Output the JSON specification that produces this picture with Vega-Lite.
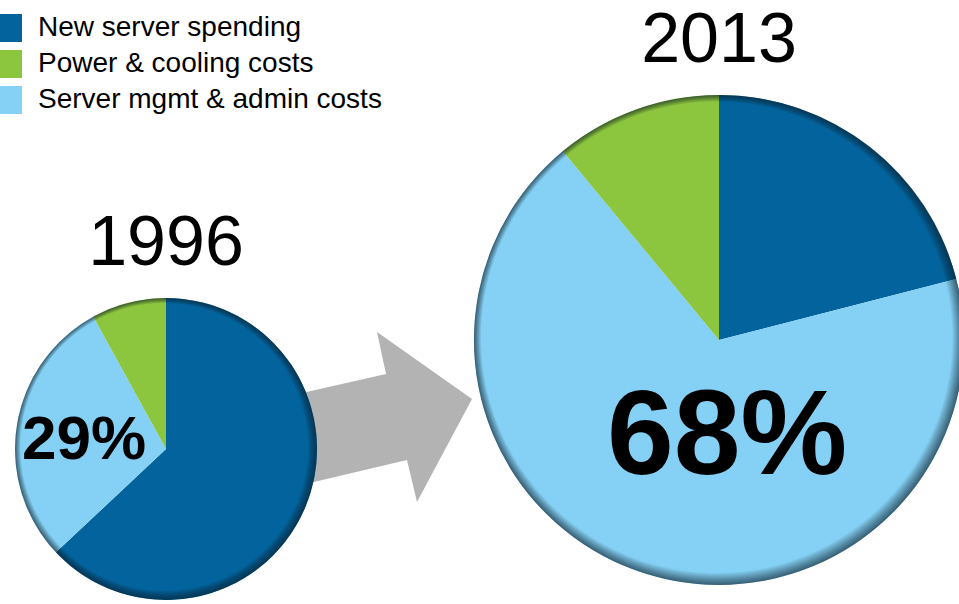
{
  "$schema": "https://vega.github.io/schema/vega-lite/v6.json",
  "padding": {"top": 6, "left": 0, "right": 0, "bottom": 0},
  "background": "white",
  "config": {"view": {"stroke": null}, "font": "Liberation Sans"},
  "datasets": {
    "pies": [
      {"year": "1996", "category": "New server spending", "share": 0.63, "rank": 1},
      {"year": "1996", "category": "Server mgmt & admin costs", "share": 0.29, "rank": 2},
      {"year": "1996", "category": "Power & cooling costs", "share": 0.08, "rank": 3},
      {"year": "2013", "category": "New server spending", "share": 0.21, "rank": 1},
      {"year": "2013", "category": "Server mgmt & admin costs", "share": 0.68, "rank": 2},
      {"year": "2013", "category": "Power & cooling costs", "share": 0.11, "rank": 3}
    ]
  },
  "spacing": 2,
  "hconcat": [
    {
      "spacing": 0,
      "vconcat": [
        {
          "width": 332,
          "height": 114,
          "data": {"values": [{}]},
          "mark": {"type": "text", "text": ""},
          "encoding": {}
        },
        {
          "width": 332,
          "height": 302,
          "title": {"text": "1996", "fontSize": 70, "fontWeight": "normal", "font": "Liberation Sans", "color": "black", "offset": 18, "anchor": "middle"},
          "data": {"name": "pies"},
          "transform": [{"filter": "datum.year === '1996'"}],
          "layer": [
            {
              "transform": [{"aggregate": [{"op": "count", "as": "n"}]}],
              "mark": {"type": "point", "shape": "M1.14,-0.51L2.20,-0.75L2.11,-1.17L3.06,-0.50L2.51,0.53L2.41,0.11L1.14,0.41Z", "size": 40000, "filled": true, "fill": "#b3b3b3", "strokeWidth": 0, "opacity": 1},
              "encoding": {}
            },
            {
              "mark": {"type": "arc"},
              "encoding": {
                "theta": {"field": "share", "type": "quantitative", "stack": true},
                "order": {"field": "rank", "type": "quantitative"},
                "color": {
                  "field": "category", "type": "nominal",
                  "scale": {"domain": ["New server spending", "Power & cooling costs", "Server mgmt & admin costs"], "range": ["#03639c", "#8cc63f", "#84d1f5"]},
                  "legend": {"orient": "none", "legendX": 0, "legendY": -81, "title": null, "symbolType": "M-1,-1H0.57V1H-1Z", "symbolSize": 784, "symbolStrokeWidth": 0, "symbolOpacity": 1, "labelFontSize": 28, "labelFont": "Liberation Sans", "labelColor": "black", "rowPadding": 8, "labelOffset": 10, "labelLimit": 600}
                }
              }
            },
            {
              "transform": [{"aggregate": [{"op": "sum", "field": "share", "as": "total"}]}],
              "mark": {"type": "arc", "fill": {"gradient": "radial", "x1": 0.38, "y1": 0.36, "r1": 0, "x2": 0.5, "y2": 0.5, "r2": 0.5, "stops": [{"offset": 0, "color": "rgba(0,0,0,0)"}, {"offset": 0.95, "color": "rgba(0,0,0,0)"}, {"offset": 1, "color": "rgba(10,30,45,0.65)"}]}},
              "encoding": {"theta": {"field": "total", "type": "quantitative"}}
            },
            {
              "mark": {"type": "text", "font": "Liberation Sans", "fontWeight": "bold", "fontSize": 62, "baseline": "middle", "align": "center", "color": "black", "dy": 4},
              "encoding": {
                "theta": {"field": "share", "type": "quantitative", "stack": true},
                "order": {"field": "rank", "type": "quantitative"},
                "radius": {"value": 83},
                "text": {"condition": {"test": "datum.category === 'Server mgmt & admin costs'", "field": "share", "type": "quantitative", "format": ".0%"}, "value": ""}
              }
            }
          ]
        }
      ]
    },
    {
      "width": 490,
      "height": 490,
      "title": {"text": "2013", "fontSize": 70, "fontWeight": "normal", "font": "Liberation Sans", "color": "black", "offset": 18, "anchor": "middle"},
      "data": {"name": "pies"},
      "transform": [{"filter": "datum.year === '2013'"}],
      "layer": [
        {
          "mark": {"type": "arc"},
          "encoding": {
            "theta": {"field": "share", "type": "quantitative", "stack": true},
            "order": {"field": "rank", "type": "quantitative"},
            "color": {
              "field": "category", "type": "nominal",
              "scale": {"domain": ["New server spending", "Power & cooling costs", "Server mgmt & admin costs"], "range": ["#03639c", "#8cc63f", "#84d1f5"]},
              "legend": {"orient": "none", "legendX": 0, "legendY": -81, "title": null, "symbolType": "M-1,-1H0.57V1H-1Z", "symbolSize": 784, "symbolStrokeWidth": 0, "symbolOpacity": 1, "labelFontSize": 28, "labelFont": "Liberation Sans", "labelColor": "black", "rowPadding": 8, "labelOffset": 10, "labelLimit": 600}
            }
          }
        },
        {
          "transform": [{"aggregate": [{"op": "sum", "field": "share", "as": "total"}]}],
          "mark": {"type": "arc", "fill": {"gradient": "radial", "x1": 0.38, "y1": 0.36, "r1": 0, "x2": 0.5, "y2": 0.5, "r2": 0.5, "stops": [{"offset": 0, "color": "rgba(0,0,0,0)"}, {"offset": 0.96, "color": "rgba(0,0,0,0)"}, {"offset": 1, "color": "rgba(10,30,45,0.65)"}]}},
          "encoding": {"theta": {"field": "total", "type": "quantitative"}}
        },
        {
          "mark": {"type": "text", "font": "Liberation Sans", "fontWeight": "bold", "fontSize": 120, "baseline": "middle", "align": "center", "color": "black", "dx": 38, "dy": 6},
          "encoding": {
            "theta": {"field": "share", "type": "quantitative", "stack": true},
            "order": {"field": "rank", "type": "quantitative"},
            "radius": {"value": 97},
            "text": {"condition": {"test": "datum.category === 'Server mgmt & admin costs'", "field": "share", "type": "quantitative", "format": ".0%"}, "value": ""}
          }
        }
      ]
    }
  ]
}
